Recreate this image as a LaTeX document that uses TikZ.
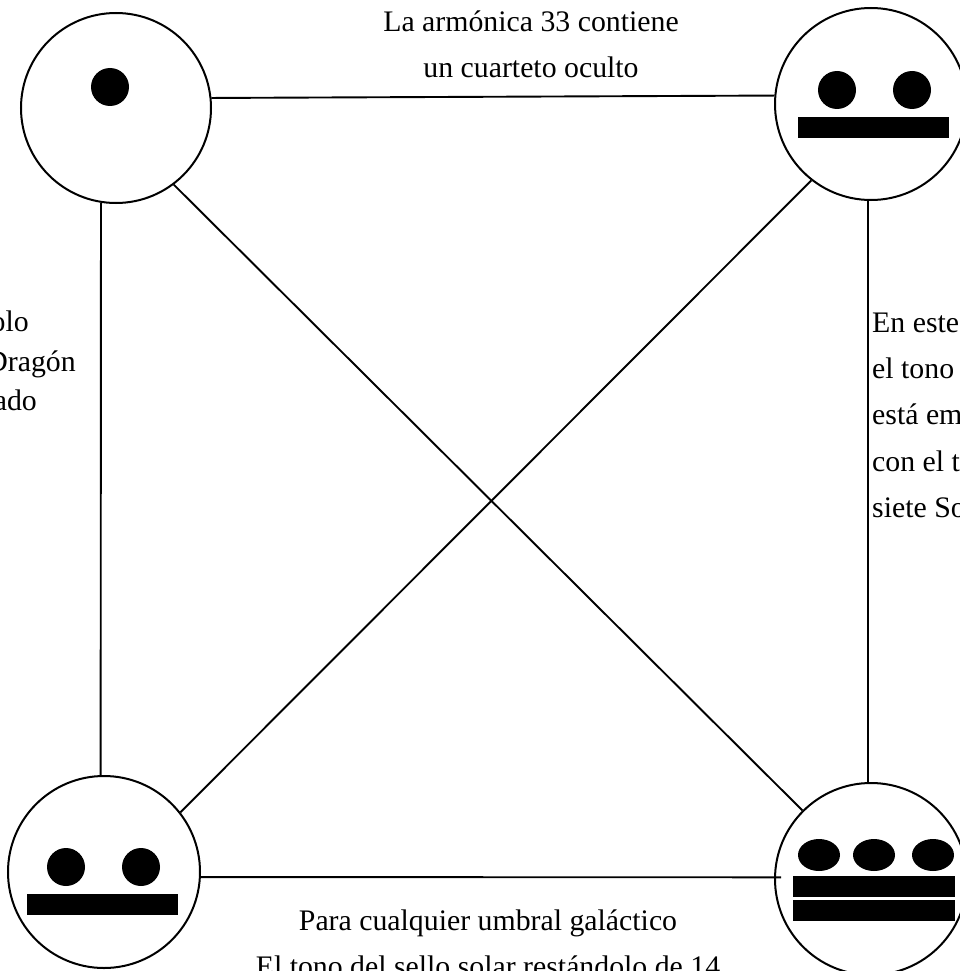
\documentclass[tikz,border=0pt]{standalone}
\usepackage{fontspec}
\setmainfont{Liberation Serif}
\begin{document}
\begin{tikzpicture}[x=1pt,y=-1pt,
  face/.style={circle,draw,line width=2pt,inner sep=0pt},
  link/.style={line width=1.9pt},
  lbl/.style={inner sep=0pt,font=\fontsize{29.8}{46}\selectfont}]
\useasboundingbox (0,0) rectangle (959,971);
% faces
\node[face,minimum size=190pt] (tl) at (116,108) {};
\node[face,minimum size=192pt] (tr) at (871,104) {};
\node[face,minimum size=192pt] (bl) at (104,872) {};
\node[face,minimum size=192pt] (br) at (871,879) {};
% contents
\fill (110,87) circle (19pt);
\fill (837,90) circle (19pt);
\fill (912,90) circle (19pt);
\fill (798,117) rectangle (949,138);
\fill (66,867) circle (19pt);
\fill (141,867) circle (19pt);
\fill (27,894) rectangle (178,915);
\fill (819,855) ellipse [x radius=21pt, y radius=16pt];
\fill (874,855) ellipse [x radius=21pt, y radius=16pt];
\fill (933,855) ellipse [x radius=21pt, y radius=16pt];
\fill (793,876) rectangle (955,897);
\fill (793,900) rectangle (955,921);
% connectors
\draw[link] (tl.6.6) -- (tr.175.8);
\draw[link] (tl.-99.7) -- (bl.92.4);
\draw[link] (tr.-92.4) -- (br.92.4);
\draw[link] (bl.-3.6) -- ([xshift=7pt]br.179.4);
\draw[link] (tl.-53.5) -- (br.135.8);
\draw[link] (tr.-128.2) -- (bl.38.7);
% labels
\node[lbl,anchor=base] (t1) at (531,32) {La armónica 33 contiene};
\node[lbl,anchor=base] (t2) at (531,78) {un cuarteto oculto};
\node[lbl,anchor=base] (b1) at (488,930) {Para cualquier umbral galáctico};
\node[lbl,anchor=base] (b2) at (488,976) {El tono del sello solar restándolo de 14};
\node[lbl,anchor=base east] (l1) at (29,331) {olo};
\node[lbl,anchor=base east] (l2) at (76,371) {Dragón};
\node[lbl,anchor=base east] (l3) at (37,410) {ado};
\node[lbl,anchor=base west] (r1) at (872,332) {En este};
\node[lbl,anchor=base west] (r2) at (872,378) {el tono};
\node[lbl,anchor=base west] (r3) at (872,424) {está em};
\node[lbl,anchor=base west] (r4) at (872,471) {con el t};
\node[lbl,anchor=base west] (r5) at (872,517) {siete So};
\end{tikzpicture}
\end{document}
